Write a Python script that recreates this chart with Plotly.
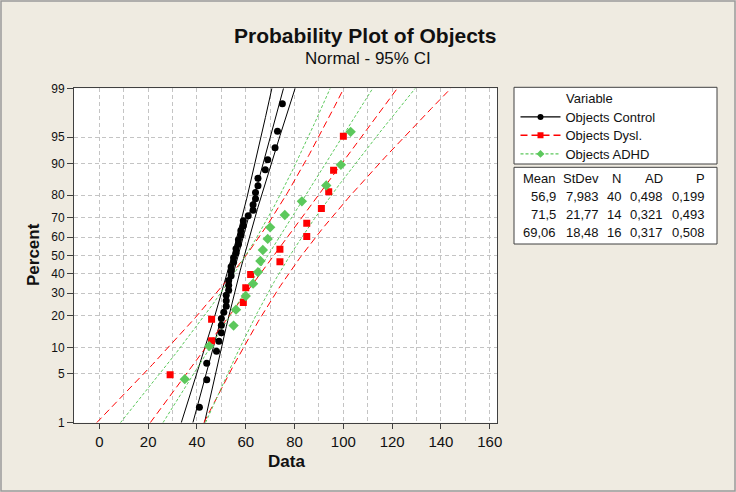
import numpy as np
import plotly.graph_objects as go
from statistics import NormalDist

W, H = 736, 492

# values (sorted data per group)
control = [41, 44, 44, 48, 49, 50, 50, 50, 51, 52, 52, 52, 53, 53, 53, 54, 54, 54, 55, 55,
           56, 56, 57, 57, 58, 58, 59, 59, 61, 63, 63, 64, 64, 65, 65, 68, 69, 72, 73, 75]
dysl = [29, 46, 46, 59, 60, 62, 74, 74, 85, 85, 91, 94, 96, 100]
adhd = [35, 45, 55, 56, 60, 63, 65, 66, 67, 69, 70, 76, 83, 93, 99, 103]

names = ["Objects Control", "Objects Dysl.", "Objects ADHD"]
means = [56.9, 71.5, 69.06]
stdevs = [7.983, 21.77, 18.48]
counts = [40, 14, 16]
ad_vals = [0.498, 0.321, 0.317]
p_vals = [0.199, 0.493, 0.508]

pct_ticks = [1, 5, 10, 20, 30, 40, 50, 60, 70, 80, 90, 95, 99]

colors = ["#000000", "#FF0000", "#5CC85C"]
dashes = ["solid", "7px,4px", "3px,2px"]
symbols = ["circle", "square", "diamond"]
msizes = [7, 7, 8]

nd = NormalDist()
font = "Liberation Sans, Arial, sans-serif"


def px_x(v):
    return v / W


def px_y(v):
    return 1 - v / H


def median_rank_z(n):
    # Minitab default plotting positions (Benard median ranks)
    return [nd.inv_cdf((i - 0.3) / (n + 0.4)) for i in range(1, n + 1)]


z_lo, z_hi = nd.inv_cdf(pct_ticks[0] / 100), nd.inv_cdf(pct_ticks[-1] / 100)
z_line = np.linspace(z_lo, z_hi, 150)

fig = go.Figure()

for k, data in enumerate([control, dysl, adhd]):
    m, s, n = means[k], stdevs[k], counts[k]
    fit = m + s * z_line
    half = 1.96 * s / np.sqrt(n) * np.sqrt(1 + z_line ** 2 / 2)
    for xs in (fit - half, fit, fit + half):
        fig.add_trace(go.Scatter(x=xs, y=z_line, mode="lines", showlegend=False,
                                 hoverinfo="skip",
                                 line=dict(color=colors[k], width=1, dash=dashes[k])))

for k, data in enumerate([control, dysl, adhd]):
    fig.add_trace(go.Scatter(x=data, y=median_rank_z(len(data)), mode="markers",
                             showlegend=False,
                             marker=dict(color=colors[k], symbol=symbols[k], size=msizes[k],
                                         line=dict(width=0))))

# legend entries, one small legend per row so rows sit where the original has them
legend_names = ["legend", "legend2", "legend3"]
legend_rows = [117.7, 136, 154.7]
for k in range(3):
    fig.add_trace(go.Scatter(x=[None], y=[None], mode="lines+markers", name=names[k],
                             legend=legend_names[k],
                             line=dict(color=colors[k], width=1.3, dash=dashes[k]),
                             marker=dict(color=colors[k], symbol=symbols[k], size=6)))

grid = dict(gridcolor="#C4C4C4", griddash="4px,3px", gridwidth=1)

fig.update_xaxes(range=[-10.4, 163.1], domain=[px_x(74), px_x(497.3)], automargin=False,
                 tick0=0, dtick=20, ticks="outside", ticklen=5, tickcolor="#404040",
                 showline=True, mirror=True, linecolor="#404040", linewidth=1,
                 zeroline=False, tickfont=dict(size=15, color="#111"),
                 minor=dict(dtick=10, tick0=0, showgrid=True, **grid), **grid)
fig.update_yaxes(range=[z_lo, z_hi], domain=[px_y(422.7), px_y(88.3)], automargin=False,
                 tickvals=[nd.inv_cdf(p / 100) for p in pct_ticks],
                 ticktext=[str(p) for p in pct_ticks],
                 ticks="outside", ticklen=6, tickcolor="#404040",
                 showline=True, mirror=True, linecolor="#404040", linewidth=1,
                 zeroline=False, tickfont=dict(size=12, color="#111"), **grid)

ann = [
    dict(x=px_x(365), y=px_y(36), text="<b>Probability Plot of Objects</b>",
         font=dict(size=21, color="#111")),
    dict(x=px_x(368), y=px_y(58), text="Normal - 95% CI", font=dict(size=17, color="#111")),
    dict(x=px_x(286), y=px_y(461), text="<b>Data</b>", font=dict(size=17, color="#111")),
    dict(x=px_x(33), y=px_y(255), text="<b>Percent</b>", textangle=-90,
         font=dict(size=17, color="#111")),
    dict(x=px_x(564), y=px_y(98.7), text="Variable", xanchor="left",
         font=dict(size=13, color="#111")),
]

# statistics table
col_right = [558.3, 601, 623.3, 665, 707.3]
headers = ["Mean", "StDev", "N", "AD", "P"]
row_y = [178.7, 196.7, 214.5, 232.3]
for c, h in enumerate(headers):
    ann.append(dict(x=px_x(col_right[c]), y=px_y(row_y[0]), text=h, xanchor="right",
                    font=dict(size=13, color="#111")))
for r in range(3):
    cells = [str(means[r]), str(stdevs[r]), str(counts[r]), str(ad_vals[r]), str(p_vals[r])]
    for c, t in enumerate(cells):
        ann.append(dict(x=px_x(col_right[c]), y=px_y(row_y[r + 1]), text=t.replace(".", ","),
                        xanchor="right", font=dict(size=13, color="#111")))

for a in ann:
    a.setdefault("xanchor", "center")
    a.update(xref="paper", yref="paper", yanchor="middle", showarrow=False)

shapes = [
    dict(type="rect", xref="paper", yref="paper", x0=px_x(1), x1=px_x(735), y0=px_y(491),
         y1=px_y(1), line=dict(color="#9A9A9A", width=1.5)),
    dict(type="rect", xref="paper", yref="paper", x0=px_x(514), x1=px_x(717), y0=px_y(164),
         y1=px_y(87.3), fillcolor="white", layer="below", line=dict(color="#404040", width=1)),
    dict(type="rect", xref="paper", yref="paper", x0=px_x(514), x1=px_x(717), y0=px_y(244),
         y1=px_y(167.3), fillcolor="white", layer="below", line=dict(color="#404040", width=1)),
]

legend_style = dict(xanchor="left", yanchor="top", bgcolor="rgba(0,0,0,0)", borderwidth=0,
                    itemwidth=40, font=dict(size=13, color="#111"))
legends = {}
for k, lname in enumerate(legend_names):
    legends[lname] = dict(x=px_x(515.5), y=px_y(legend_rows[k] - 15.7), **legend_style)

fig.update_layout(
    width=W, height=H,
    margin=dict(l=0, r=0, t=0, b=0, autoexpand=False),
    paper_bgcolor="#EFEBE1", plot_bgcolor="white",
    font=dict(family=font, color="#111"),
    annotations=ann, shapes=shapes,
    **legends,
)

fig.write_html("out.html", config={"displayModeBar": False},
               post_script="document.body.style.margin='0px';")
